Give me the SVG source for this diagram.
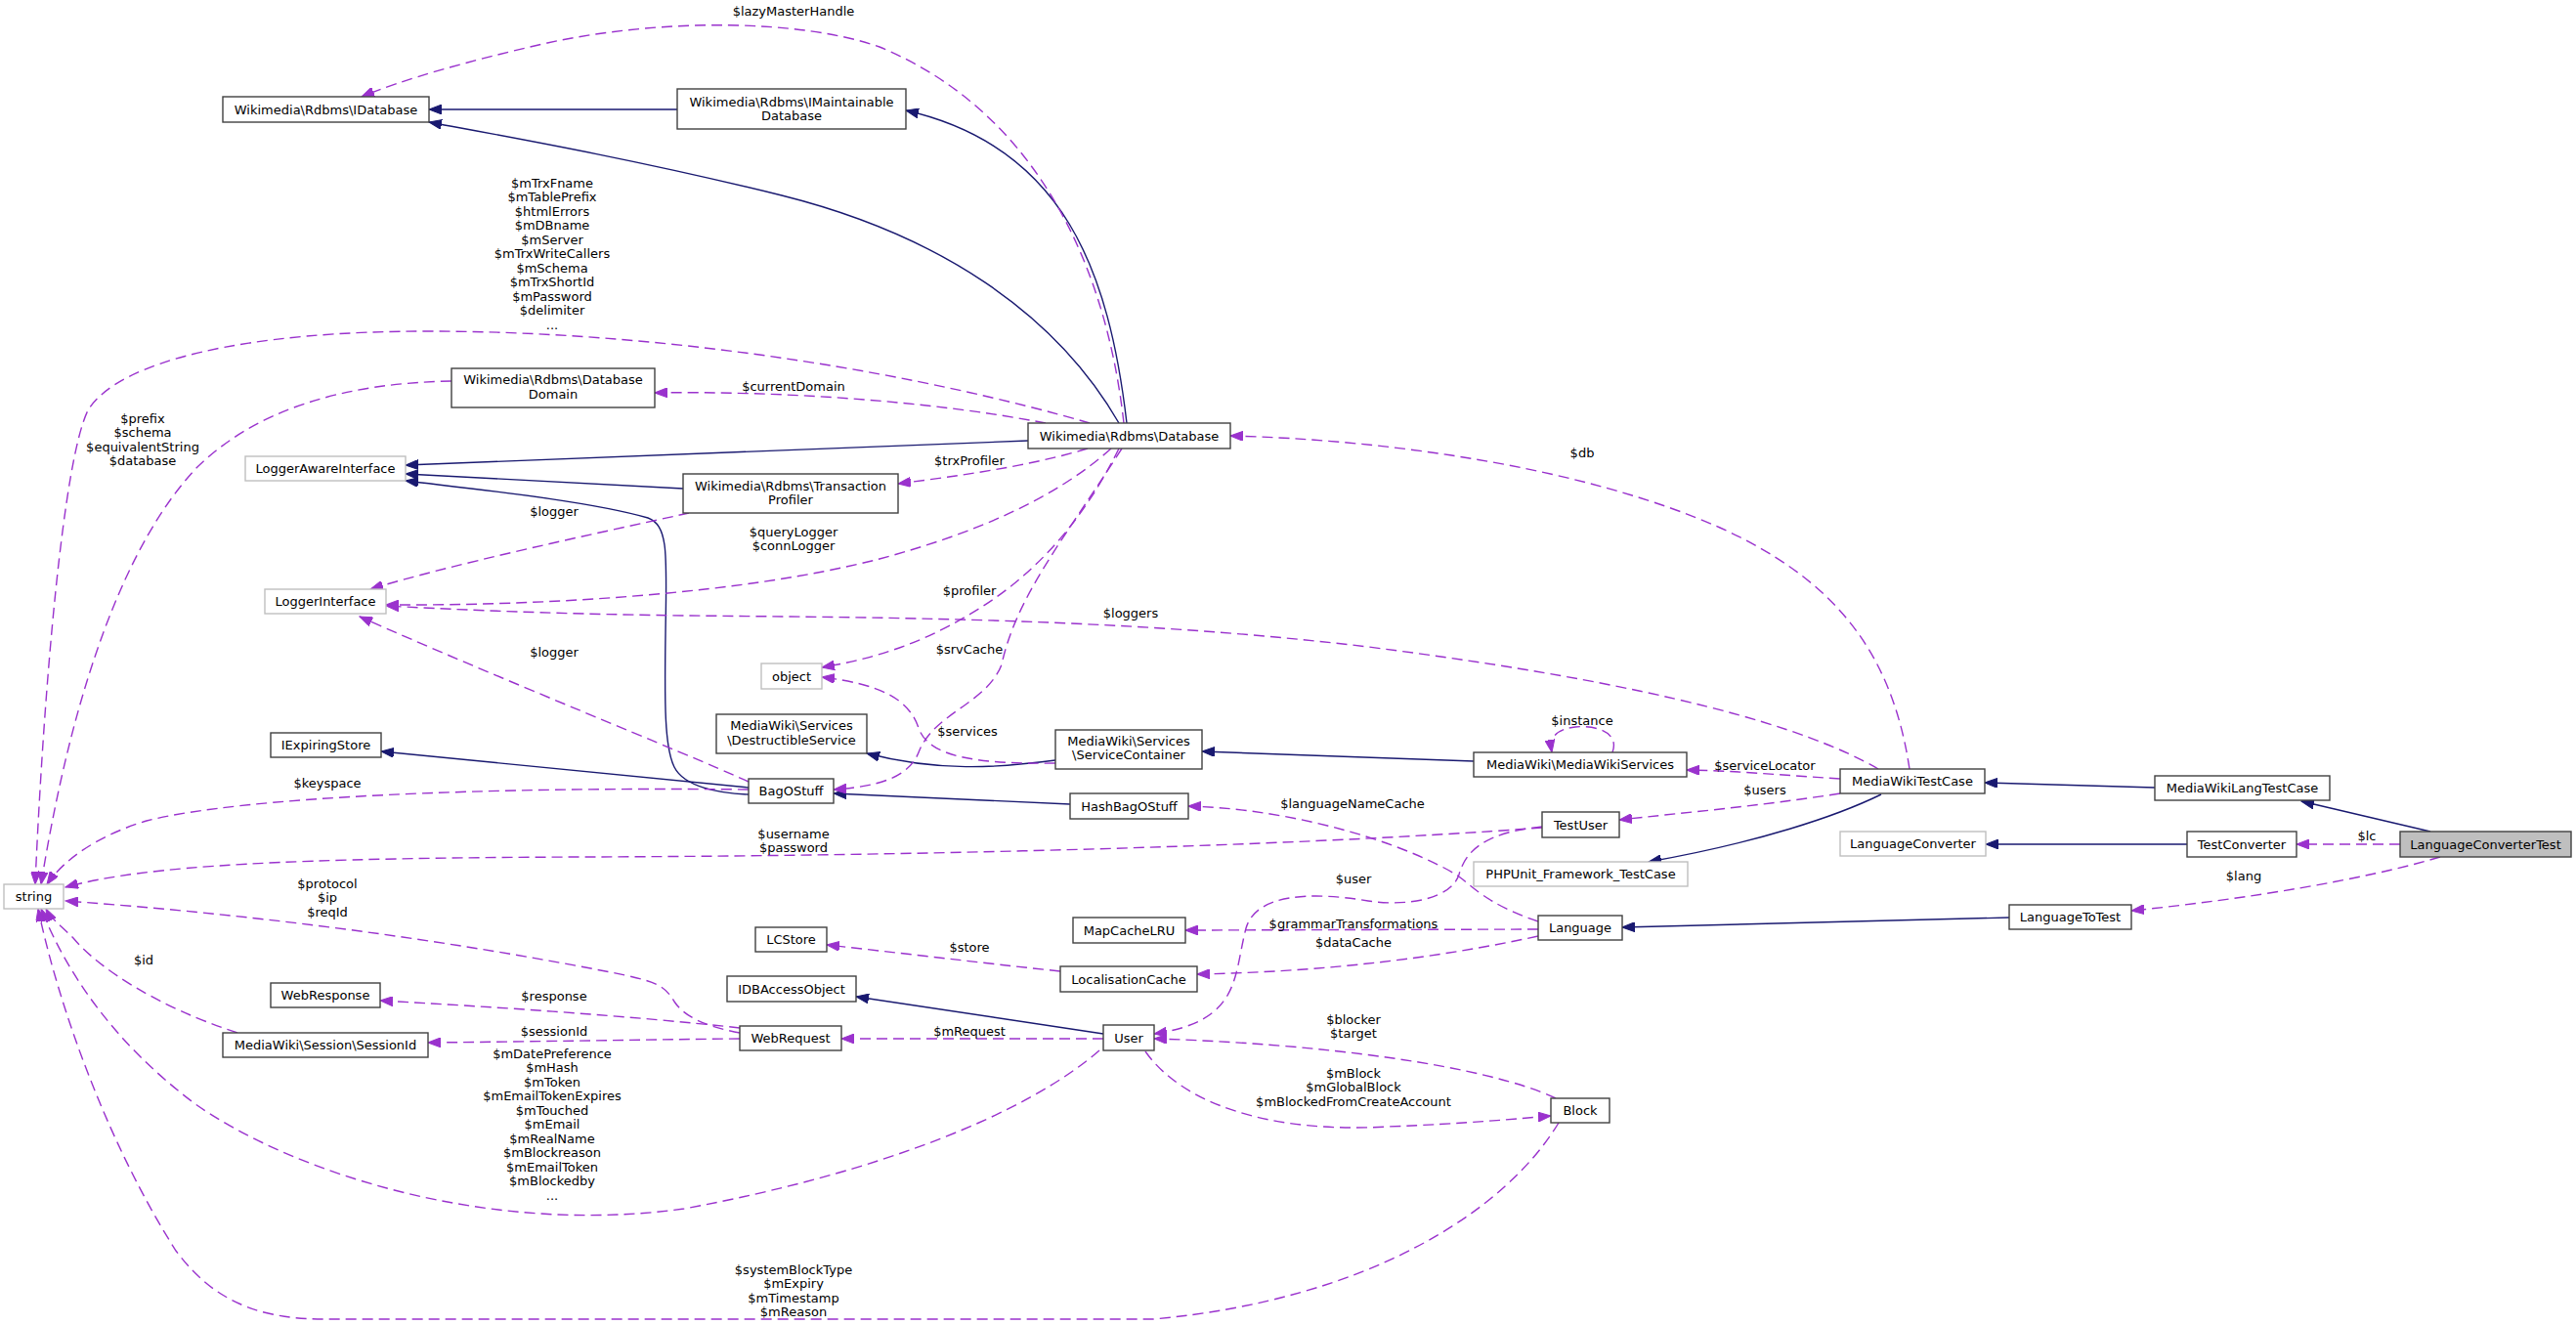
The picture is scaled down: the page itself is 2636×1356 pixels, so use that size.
<svg xmlns="http://www.w3.org/2000/svg" width="2636" height="1356" viewBox="0 0 2636 1356">
<style>
.nd{fill:#ffffff;stroke:#404040;stroke-width:1.4}
.ng{fill:#ffffff;stroke:#bfbfbf;stroke-width:1.4}
.nc{fill:#bfbfbf;stroke:#404040;stroke-width:1.4}
.t{font-family:"DejaVu Sans","Liberation Sans",sans-serif;font-size:13px;text-anchor:middle;fill:#000000}
.inh{fill:none;stroke:#191970;stroke-width:1.4}
.dep{fill:none;stroke:#9a32cd;stroke-width:1.4;stroke-dasharray:11,6}
</style>
<defs>
<marker id="ab" markerUnits="userSpaceOnUse" markerWidth="14" markerHeight="10" refX="13" refY="5" orient="auto">
<path d="M0,0 L13,5 L0,10 z" fill="#191970" stroke="#191970" stroke-width="1"/>
</marker>
<marker id="ap" markerUnits="userSpaceOnUse" markerWidth="14" markerHeight="10" refX="13" refY="5" orient="auto">
<path d="M0,0 L13,5 L0,10 z" fill="#9a32cd" stroke="#9a32cd" stroke-width="1"/>
</marker>
</defs>
<rect x="0" y="0" width="2636" height="1356" fill="#ffffff"/>

<g id="edges">
<!-- inheritance -->
<path class="inh" marker-end="url(#ab)" d="M693,112 L439,112"/>
<path class="inh" marker-end="url(#ab)" d="M1145,433 C1080,320 960,240 800,200 C650,163 520,140 439,125"/>
<path class="inh" marker-end="url(#ab)" d="M1153,433 C1135,280 1090,150 927,113"/>
<path class="inh" marker-end="url(#ab)" d="M1052,451 L415,476"/>
<path class="inh" marker-end="url(#ab)" d="M699,500 L415,485"/>
<path class="inh" marker-end="url(#ab)" d="M766,813 C735,812 700,805 690,785 C680,765 680,720 681,650 C682,570 685,538 663,530 C600,512 480,500 415,492"/>
<path class="inh" marker-end="url(#ab)" d="M766,806 L390,769"/>
<path class="inh" marker-end="url(#ab)" d="M1080,778 C1020,786 960,790 887,771"/>
<path class="inh" marker-end="url(#ab)" d="M1095,823 L853,812"/>
<path class="inh" marker-end="url(#ab)" d="M1508,779 L1230,769"/>
<path class="inh" marker-end="url(#ab)" d="M1925,813 C1880,835 1800,862 1687,882"/>
<path class="inh" marker-end="url(#ab)" d="M2205,806 L2031,801"/>
<path class="inh" marker-end="url(#ab)" d="M2487,851 L2355,820"/>
<path class="inh" marker-end="url(#ab)" d="M2238,864 L2032,864"/>
<path class="inh" marker-end="url(#ab)" d="M2056,939 L1660,949"/>
<path class="inh" marker-end="url(#ab)" d="M1129,1058 L876,1020"/>

<!-- usage -->
<path class="dep" marker-end="url(#ap)" d="M1150,433 C1130,255 1050,110 900,48 C820,20 680,18 560,44 C480,62 410,82 370,99"/>
<text class="t" x="812" y="16">$lazyMasterHandle</text>

<path class="dep" marker-end="url(#ap)" d="M1115,433 C950,385 700,340 446,339 C250,338 120,370 90,420 C65,470 45,700 36,905"/>
<text class="t" x="565" y="191.5">$mTrxFname</text>
<text class="t" x="565" y="206">$mTablePrefix</text>
<text class="t" x="565" y="220.5">$htmlErrors</text>
<text class="t" x="565" y="235">$mDBname</text>
<text class="t" x="565" y="249.5">$mServer</text>
<text class="t" x="565" y="264">$mTrxWriteCallers</text>
<text class="t" x="565" y="278.5">$mSchema</text>
<text class="t" x="565" y="293">$mTrxShortId</text>
<text class="t" x="565" y="307.5">$mPassword</text>
<text class="t" x="565" y="322">$delimiter</text>
<text class="t" x="565" y="336.5">...</text>

<path class="dep" marker-end="url(#ap)" d="M1070,433 C950,410 800,400 670,402"/>
<text class="t" x="812" y="400">$currentDomain</text>

<path class="dep" marker-end="url(#ap)" d="M462,390 C350,392 260,420 200,480 C130,555 75,700 42,905"/>
<text class="t" x="146" y="432.5">$prefix</text>
<text class="t" x="146" y="447">$schema</text>
<text class="t" x="146" y="461.5">$equivalentString</text>
<text class="t" x="146" y="476">$database</text>

<path class="dep" marker-end="url(#ap)" d="M1113,459 C1050,478 980,487 919,495"/>
<text class="t" x="992" y="475.5">$trxProfiler</text>

<path class="dep" marker-end="url(#ap)" d="M1137,459 C1080,510 1000,545 900,572 C760,608 560,620 395,619"/>
<text class="t" x="812" y="548.5">$queryLogger</text>
<text class="t" x="812" y="563">$connLogger</text>

<path class="dep" marker-end="url(#ap)" d="M1145,459 C1110,530 1060,590 990,630 C940,660 890,675 841,683"/>
<text class="t" x="992" y="608.5">$profiler</text>

<path class="dep" marker-end="url(#ap)" d="M1148,459 C1090,550 1040,610 1025,680 C1010,720 955,730 940,770 C930,795 900,805 853,808"/>
<text class="t" x="992" y="668.5">$srvCache</text>

<path class="dep" marker-end="url(#ap)" d="M705,525 C600,548 460,578 379,603"/>
<text class="t" x="567" y="527.5">$logger</text>

<path class="dep" marker-end="url(#ap)" d="M766,800 C700,770 500,690 368,631"/>
<text class="t" x="567" y="671.5">$logger</text>

<path class="dep" marker-end="url(#ap)" d="M1922,787 C1850,745 1700,700 1400,662 C1150,632 900,632 700,630 C550,628 450,623 395,620"/>
<text class="t" x="1157" y="631.5">$loggers</text>

<path class="dep" marker-end="url(#ap)" d="M1954,787 C1935,660 1870,590 1760,540 C1620,478 1420,450 1259,446"/>
<text class="t" x="1619" y="467.5">$db</text>

<path class="dep" marker-end="url(#ap)" d="M1080,781 C1000,782 950,775 940,745 C930,715 900,700 841,693"/>
<text class="t" x="990" y="752.5">$services</text>

<path class="dep" marker-end="url(#ap)" d="M766,808 C500,805 250,815 150,840 C100,855 65,880 48,905"/>
<text class="t" x="335" y="805.5">$keyspace</text>

<path class="dep" marker-end="url(#ap)" d="M1650,770 C1658,748 1630,742 1612,744 C1595,746 1585,752 1588,770"/>
<text class="t" x="1619" y="741.5">$instance</text>

<path class="dep" marker-end="url(#ap)" d="M1883,797 C1820,793 1780,789 1726,788"/>
<text class="t" x="1806" y="787.5">$serviceLocator</text>

<path class="dep" marker-end="url(#ap)" d="M1883,812 C1800,825 1720,832 1657,839"/>
<text class="t" x="1806" y="812.5">$users</text>

<path class="dep" marker-end="url(#ap)" d="M1578,847 C1300,868 900,876 600,877 C300,878 150,885 67,908"/>
<text class="t" x="812" y="857.5">$username</text>
<text class="t" x="812" y="872">$password</text>

<path class="dep" marker-end="url(#ap)" d="M1574,943 C1520,925 1505,905 1490,895 C1440,865 1330,828 1216,825"/>
<text class="t" x="1384" y="826.5">$languageNameCache</text>

<path class="dep" marker-end="url(#ap)" d="M1578,846 C1520,852 1500,870 1493,895 C1485,920 1440,928 1400,922 C1340,912 1285,915 1275,950 C1262,1000 1270,1045 1181,1058"/>
<text class="t" x="1385" y="903.5">$user</text>

<path class="dep" marker-end="url(#ap)" d="M1574,951 L1213,952"/>
<text class="t" x="1385" y="949.5">$grammarTransformations</text>

<path class="dep" marker-end="url(#ap)" d="M1574,958 C1450,985 1330,995 1225,997"/>
<text class="t" x="1385" y="968.5">$dataCache</text>

<path class="dep" marker-end="url(#ap)" d="M1085,994 C1000,985 920,975 846,967"/>
<text class="t" x="992" y="973.5">$store</text>

<path class="dep" marker-end="url(#ap)" d="M1129,1063 L861,1063"/>
<text class="t" x="992" y="1059.5">$mRequest</text>

<path class="dep" marker-end="url(#ap)" d="M757,1057 C720,1050 700,1040 690,1025 C680,1008 670,1005 640,998 C450,960 250,935 67,922"/>
<text class="t" x="335" y="908.5">$protocol</text>
<text class="t" x="335" y="923">$ip</text>
<text class="t" x="335" y="937.5">$reqId</text>

<path class="dep" marker-end="url(#ap)" d="M757,1052 C650,1040 500,1030 389,1024"/>
<text class="t" x="567" y="1023.5">$response</text>

<path class="dep" marker-end="url(#ap)" d="M757,1063 C650,1064 550,1066 438,1067"/>
<text class="t" x="567" y="1059.5">$sessionId</text>

<path class="dep" marker-end="url(#ap)" d="M243,1057 C160,1030 100,990 75,960 C60,945 52,940 47,930"/>
<text class="t" x="147" y="986.5">$id</text>

<path class="dep" marker-end="url(#ap)" d="M1125,1075 C1050,1140 900,1200 700,1237 C500,1265 300,1200 200,1130 C120,1070 70,1000 42,930"/>
<text class="t" x="565" y="1082.5">$mDatePreference</text>
<text class="t" x="565" y="1097">$mHash</text>
<text class="t" x="565" y="1111.5">$mToken</text>
<text class="t" x="565" y="1126">$mEmailTokenExpires</text>
<text class="t" x="565" y="1140.5">$mTouched</text>
<text class="t" x="565" y="1155">$mEmail</text>
<text class="t" x="565" y="1169.5">$mRealName</text>
<text class="t" x="565" y="1184">$mBlockreason</text>
<text class="t" x="565" y="1198.5">$mEmailToken</text>
<text class="t" x="565" y="1213">$mBlockedby</text>
<text class="t" x="565" y="1227.5">...</text>

<path class="dep" marker-end="url(#ap)" d="M1592,1124 C1520,1090 1350,1068 1181,1063"/>
<text class="t" x="1385" y="1047.5">$blocker</text>
<text class="t" x="1385" y="1062">$target</text>

<path class="dep" marker-end="url(#ap)" d="M1172,1076 C1210,1130 1300,1160 1420,1153 C1500,1150 1550,1145 1587,1142"/>
<text class="t" x="1385" y="1102.5">$mBlock</text>
<text class="t" x="1385" y="1117">$mGlobalBlock</text>
<text class="t" x="1385" y="1131.5">$mBlockedFromCreateAccount</text>

<path class="dep" marker-end="url(#ap)" d="M1595,1149 C1540,1240 1400,1330 1180,1350 L330,1350 C250,1350 210,1320 180,1280 C110,1170 60,1030 39,930"/>
<text class="t" x="812" y="1303.5">$systemBlockType</text>
<text class="t" x="812" y="1318">$mExpiry</text>
<text class="t" x="812" y="1332.5">$mTimestamp</text>
<text class="t" x="812" y="1347">$mReason</text>

<path class="dep" marker-end="url(#ap)" d="M2456,864 L2350,864"/>
<text class="t" x="2422" y="859.5">$lc</text>

<path class="dep" marker-end="url(#ap)" d="M2497,877 C2420,900 2300,920 2181,932"/>
<text class="t" x="2296" y="900.5">$lang</text>
</g>

<g id="n_IDatabase"><rect class="nd" x="228" y="99" width="211" height="26"/><text class="t" x="333.5" y="116.5">Wikimedia\Rdbms\IDatabase</text></g>
<g id="n_IMaintainableDatabase"><rect class="nd" x="693" y="91" width="234" height="41"/><text class="t" x="810" y="108.5">Wikimedia\Rdbms\IMaintainable</text><text class="t" x="810" y="122.5">Database</text></g>
<g id="n_DatabaseDomain"><rect class="nd" x="462" y="377" width="208" height="40"/><text class="t" x="566" y="392.5">Wikimedia\Rdbms\Database</text><text class="t" x="566" y="407.5">Domain</text></g>
<g id="n_Database"><rect class="nd" x="1052" y="433" width="207" height="26"/><text class="t" x="1155.5" y="450.5">Wikimedia\Rdbms\Database</text></g>
<g id="n_LoggerAwareInterface"><rect class="ng" x="251" y="467" width="164" height="25"/><text class="t" x="333" y="484">LoggerAwareInterface</text></g>
<g id="n_TransactionProfiler"><rect class="nd" x="699" y="485" width="220" height="40"/><text class="t" x="809" y="501.5">Wikimedia\Rdbms\Transaction</text><text class="t" x="809" y="515.5">Profiler</text></g>
<g id="n_LoggerInterface"><rect class="ng" x="271" y="603" width="124" height="25"/><text class="t" x="333" y="620">LoggerInterface</text></g>
<g id="n_object"><rect class="ng" x="779" y="679" width="62" height="26"/><text class="t" x="810" y="696.5">object</text></g>
<g id="n_DestructibleService"><rect class="nd" x="733" y="731" width="154" height="40"/><text class="t" x="810" y="746.5">MediaWiki\Services</text><text class="t" x="810" y="761.5">\DestructibleService</text></g>
<g id="n_ServiceContainer"><rect class="nd" x="1080" y="747" width="150" height="40"/><text class="t" x="1155" y="762.5">MediaWiki\Services</text><text class="t" x="1155" y="776.5">\ServiceContainer</text></g>
<g id="n_IExpiringStore"><rect class="nd" x="277" y="750" width="113" height="25"/><text class="t" x="333.5" y="767">IExpiringStore</text></g>
<g id="n_BagOStuff"><rect class="nd" x="766" y="797" width="87" height="25"/><text class="t" x="809.5" y="814">BagOStuff</text></g>
<g id="n_HashBagOStuff"><rect class="nd" x="1095" y="812" width="121" height="26"/><text class="t" x="1155.5" y="829.5">HashBagOStuff</text></g>
<g id="n_MediaWikiServices"><rect class="nd" x="1508" y="770" width="218" height="25"/><text class="t" x="1617" y="787">MediaWiki\MediaWikiServices</text></g>
<g id="n_MediaWikiTestCase"><rect class="nd" x="1883" y="787" width="148" height="25"/><text class="t" x="1957" y="804">MediaWikiTestCase</text></g>
<g id="n_TestUser"><rect class="nd" x="1578" y="831" width="79" height="26"/><text class="t" x="1617.5" y="848.5">TestUser</text></g>
<g id="n_PHPUnit"><rect class="ng" x="1508" y="882" width="219" height="25"/><text class="t" x="1617.5" y="899">PHPUnit_Framework_TestCase</text></g>
<g id="n_LanguageConverter"><rect class="ng" x="1883" y="851" width="149" height="25"/><text class="t" x="1957.5" y="868">LanguageConverter</text></g>
<g id="n_MediaWikiLangTestCase"><rect class="nd" x="2205" y="794" width="179" height="25"/><text class="t" x="2294.5" y="811">MediaWikiLangTestCase</text></g>
<g id="n_TestConverter"><rect class="nd" x="2238" y="851" width="112" height="26"/><text class="t" x="2294" y="868.5">TestConverter</text></g>
<g id="n_LanguageConverterTest"><rect class="nc" x="2456" y="851" width="175" height="26"/><text class="t" x="2543.5" y="868.5">LanguageConverterTest</text></g>
<g id="n_LanguageToTest"><rect class="nd" x="2056" y="926" width="125" height="25"/><text class="t" x="2118.5" y="943">LanguageToTest</text></g>
<g id="n_Language"><rect class="nd" x="1574" y="937" width="86" height="25"/><text class="t" x="1617" y="954">Language</text></g>
<g id="n_MapCacheLRU"><rect class="nd" x="1098" y="939" width="115" height="26"/><text class="t" x="1155.5" y="956.5">MapCacheLRU</text></g>
<g id="n_LCStore"><rect class="nd" x="773" y="949" width="73" height="25"/><text class="t" x="809.5" y="966">LCStore</text></g>
<g id="n_LocalisationCache"><rect class="nd" x="1085" y="989" width="140" height="26"/><text class="t" x="1155" y="1006.5">LocalisationCache</text></g>
<g id="n_IDBAccessObject"><rect class="nd" x="744" y="999" width="132" height="26"/><text class="t" x="810" y="1016.5">IDBAccessObject</text></g>
<g id="n_WebResponse"><rect class="nd" x="277" y="1006" width="112" height="25"/><text class="t" x="333" y="1023">WebResponse</text></g>
<g id="n_WebRequest"><rect class="nd" x="757" y="1050" width="104" height="25"/><text class="t" x="809" y="1067">WebRequest</text></g>
<g id="n_User"><rect class="nd" x="1129" y="1049" width="52" height="26"/><text class="t" x="1155" y="1066.5">User</text></g>
<g id="n_SessionId"><rect class="nd" x="228" y="1057" width="210" height="25"/><text class="t" x="333" y="1074">MediaWiki\Session\SessionId</text></g>
<g id="n_Block"><rect class="nd" x="1587" y="1124" width="60" height="25"/><text class="t" x="1617" y="1141">Block</text></g>
<g id="n_string"><rect class="ng" x="4" y="905" width="61" height="25"/><text class="t" x="34.5" y="922">string</text></g>
</svg>
